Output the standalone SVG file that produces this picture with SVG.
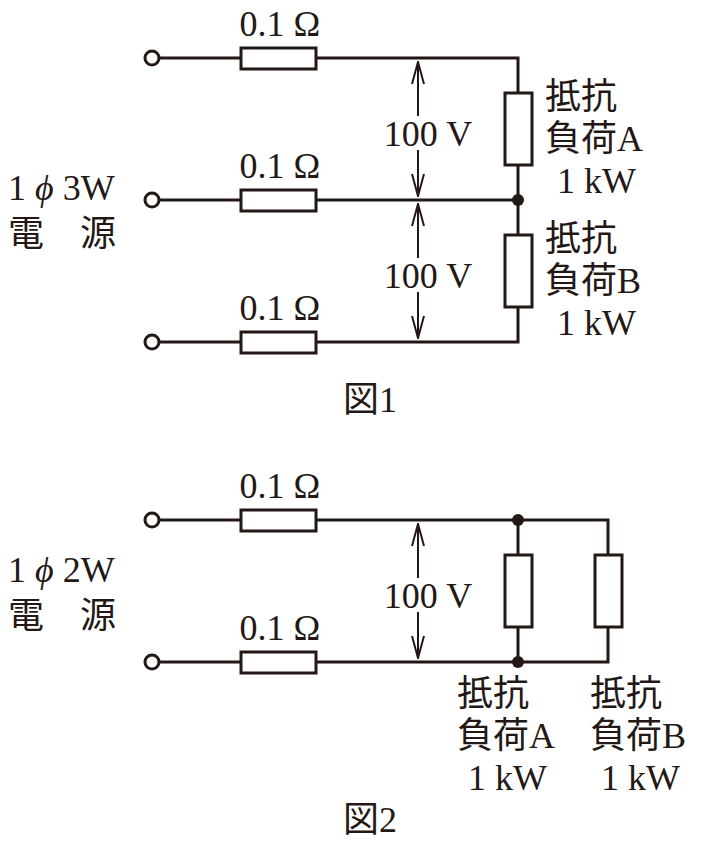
<svg xmlns="http://www.w3.org/2000/svg" width="708" height="841" viewBox="0 0 708 841">
<style>
.w{stroke:#231815;stroke-width:3;fill:none}
.r{stroke:#231815;stroke-width:3;fill:#fff}
.a{stroke:#231815;stroke-width:2;fill:none}
.u{marker-start:url(#ah)}
.d{marker-end:url(#ah)}
text{font-family:"Liberation Serif","Noto Sans CJK JP",serif;font-size:36px;fill:#231815}
.c{text-anchor:middle}
</style>
<defs>
<marker id="ah" viewBox="0 0 24 14" refX="23" refY="7" markerWidth="24" markerHeight="14" markerUnits="userSpaceOnUse" orient="auto-start-reverse">
<polyline points="1,1 23,7 1,13" fill="none" stroke="#231815" stroke-width="2"/>
</marker>
</defs>
<g id="connectors">
<path class="w" d="M159 58H518V342H159M159 200H518M159 520H608V662H159M518 520V662"/>
<line class="a u" x1="418" y1="62" x2="418" y2="116"/>
<line class="a d" x1="418" y1="150" x2="418" y2="196"/>
<line class="a u" x1="418" y1="204" x2="418" y2="258"/>
<line class="a d" x1="418" y1="292" x2="418" y2="338"/>
<line class="a u" x1="418" y1="524" x2="418" y2="578"/>
<line class="a d" x1="418" y1="612" x2="418" y2="658"/>
</g>
<g id="terminals">
<circle class="r" cx="152" cy="58" r="7"/><circle class="r" cx="152" cy="200" r="7"/><circle class="r" cx="152" cy="342" r="7"/>
<circle class="r" cx="152" cy="520" r="7"/><circle class="r" cx="152" cy="662" r="7"/>
</g>
<g id="dots" fill="#231815">
<circle cx="518" cy="200" r="6"/><circle cx="518" cy="520" r="6"/><circle cx="518" cy="662" r="6"/>
</g>
<g id="resistors">
<rect class="r" x="241" y="48" width="75" height="21"/><rect class="r" x="241" y="190" width="75" height="21"/><rect class="r" x="241" y="332" width="75" height="21"/>
<rect class="r" x="241" y="510" width="75" height="21"/><rect class="r" x="241" y="652" width="75" height="21"/>
<rect class="r" x="505" y="93" width="27" height="72"/><rect class="r" x="505" y="235" width="27" height="72"/>
<rect class="r" x="505" y="555" width="27" height="72"/><rect class="r" x="595" y="555" width="27" height="72"/>
</g>
<g id="labels">
<text class="c" x="280" y="36">0.1 Ω</text><text class="c" x="280" y="178">0.1 Ω</text><text class="c" x="280" y="320">0.1 Ω</text>
<text class="c" x="280" y="498">0.1 Ω</text><text class="c" x="280" y="640">0.1 Ω</text>
<text class="c" x="428" y="146">100 V</text><text class="c" x="428" y="288">100 V</text><text class="c" x="428" y="608">100 V</text>
<text x="545" y="109">抵抗</text><text x="545" y="151">負荷A</text><text x="557" y="193">1 kW</text>
<text x="545" y="251">抵抗</text><text x="545" y="293">負荷B</text><text x="557" y="335">1 kW</text>
<text x="8" y="200">1 <tspan font-style="italic">ϕ</tspan> 3W</text><text x="8" y="246">電　源</text>
<text x="8" y="582">1 <tspan font-style="italic">ϕ</tspan> 2W</text><text x="8" y="628">電　源</text>
<text x="457" y="706">抵抗</text><text x="457" y="748">負荷A</text><text x="468" y="790">1 kW</text>
<text x="590" y="706">抵抗</text><text x="590" y="748">負荷B</text><text x="601" y="790">1 kW</text>
<text class="c" x="370" y="412">図1</text><text class="c" x="370" y="832">図2</text>
</g>
</svg>
